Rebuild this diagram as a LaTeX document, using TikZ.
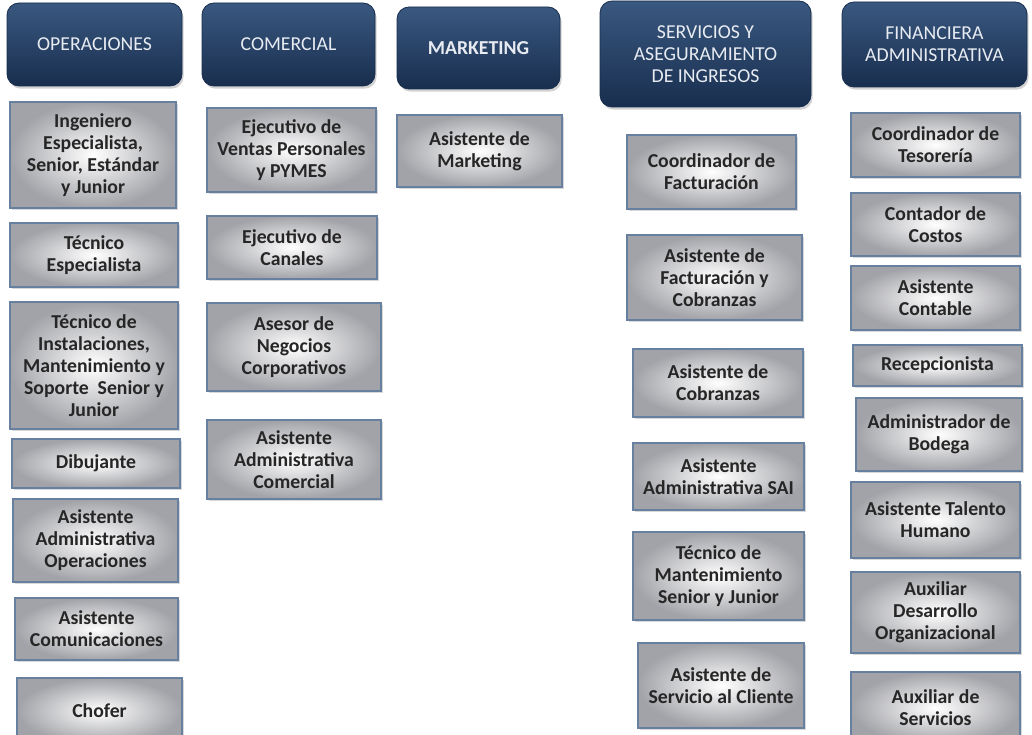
\documentclass[tikz,border=0pt]{standalone}
\usepackage{fontspec}
\setmainfont{Carlito}
\usetikzlibrary{positioning, shadows}
\definecolor{navytop}{RGB}{58,88,128}
\definecolor{navymid}{RGB}{32,60,98}
\definecolor{navybot}{RGB}{24,46,78}
\definecolor{cajagris}{RGB}{162,163,168}
\definecolor{bordeazul}{RGB}{104,128,160}
\definecolor{textogris}{RGB}{232,236,242}

\tikzset{
  ancho/.style={minimum width=#1*0.75pt},
  alto/.style={minimum height=#1*0.75pt},
  area/.style={rounded corners=9pt, top color=navytop, middle color=navymid,
    bottom color=navybot, draw=navybot, line width=0.6pt,
    drop shadow={shadow xshift=1.2pt, shadow yshift=-2pt, opacity=0.35},
    text=textogris, align=center, inner sep=0pt,
    font=\fontsize{14.8}{16.5}\selectfont},
  puesto/.style={inner color=white, outer color=cajagris,
    draw=bordeazul, line width=1.1pt,
    drop shadow={shadow xshift=1.2pt, shadow yshift=-1.8pt, opacity=0.3},
    text=black!85, align=center, inner sep=0pt,
    font=\bfseries\fontsize{14.8}{16.5}\selectfont}
}

\begin{document}
\begin{tikzpicture}[x=0.75pt, y=-0.75pt]
  \fill[white] (0,0) rectangle (1032,735);
  \useasboundingbox (0,0) rectangle (1032,735);
  \clip (0,0) rectangle (1032,735);

  % areas
  \node[area, ancho=175, alto=83] (operaciones) at (94.5,44.5) {OPERACIONES};
  \node[area, ancho=173, alto=83] (comercial) at (288.5,44.5) {COMERCIAL};
  \node[area, ancho=163, alto=82, font=\bfseries\fontsize{14.8}{16.5}\selectfont] (marketing) at (478.5,48) {MARKETING};
  \node[area, ancho=211, alto=106] (servicios) at (705.5,54) {SERVICIOS Y\\ASEGURAMIENTO\\DE INGRESOS};
  \node[area, ancho=185, alto=85] (financiera) at (934.5,44.5) {FINANCIERA\\ADMINISTRATIVA};

  % operaciones
  \node[puesto, ancho=166, alto=106] (op1) at (93,155) {Ingeniero\\Especialista,\\Senior, Estándar\\y Junior};
  \node[puesto, ancho=168, alto=64] (op2) at (94,255) {Técnico\\Especialista};
  \node[puesto, ancho=168, alto=127] (op3) at (94,365.5) {Técnico de\\Instalaciones,\\Mantenimiento y\\Soporte\ \ Senior y\\Junior};
  \node[puesto, ancho=168, alto=49] (op4) at (96,463.5) {Dibujante};
  \node[puesto, ancho=165, alto=83] (op5) at (95.5,540.5) {Asistente\\Administrativa\\Operaciones};
  \node[puesto, ancho=163, alto=62] (op6) at (96.5,629) {Asistente\\Comunicaciones};
  \node[puesto, ancho=165, alto=66] (op7) at (99.5,711) {Chofer};

  % comercial
  \node[puesto, ancho=169, alto=84] (co1) at (291.5,150) {Ejecutivo de\\Ventas Personales\\y PYMES};
  \node[puesto, ancho=170, alto=63] (co2) at (292,247.5) {Ejecutivo de\\Canales};
  \node[puesto, ancho=174, alto=88] (co3) at (294,347) {Asesor de\\Negocios\\Corporativos};
  \node[puesto, ancho=174, alto=79] (co4) at (294,459.5) {Asistente\\Administrativa\\Comercial};

  % marketing
  \node[puesto, ancho=165, alto=72] (mk1) at (479.5,151) {Asistente de\\Marketing};

  % servicios y aseguramiento
  \node[puesto, ancho=169, alto=74] (sa1) at (711.5,172) {Coordinador de\\Facturación};
  \node[puesto, ancho=175, alto=85] (sa2) at (714.5,277.5) {Asistente de\\Facturación y\\Cobranzas};
  \node[puesto, ancho=170, alto=68] (sa3) at (718,383) {Asistente de\\Cobranzas};
  \node[puesto, ancho=171, alto=67] (sa4) at (718.5,476.5) {Asistente\\Administrativa SAI};
  \node[puesto, ancho=171, alto=88] (sa5) at (718.5,576) {Técnico de\\Mantenimiento\\Senior y Junior};
  \node[puesto, ancho=166, alto=85] (sa6) at (721,685.5) {Asistente de\\Servicio al Cliente};

  % financiera administrativa
  \node[puesto, ancho=169, alto=64] (fi1) at (935.5,145) {Coordinador de\\Tesorería};
  \node[puesto, ancho=169, alto=63] (fi2) at (935.5,224.5) {Contador de\\Costos};
  \node[puesto, ancho=169, alto=64] (fi3) at (935.5,298) {Asistente\\Contable};
  \node[puesto, ancho=169, alto=41] (fi4) at (937.5,365.5) {Recepcionista};
  \node[puesto, ancho=166, alto=73] (fi5) at (939,434.5) {Administrador de\\Bodega};
  \node[puesto, ancho=169, alto=76] (fi6) at (935.5,520) {Asistente Talento\\Humano};
  \node[puesto, ancho=169, alto=81] (fi7) at (935.5,612.5) {Auxiliar\\Desarrollo\\Organizacional};
  \node[puesto, ancho=169, alto=72] (fi8) at (935.5,708) {Auxiliar de\\Servicios};
\end{tikzpicture}
\end{document}
